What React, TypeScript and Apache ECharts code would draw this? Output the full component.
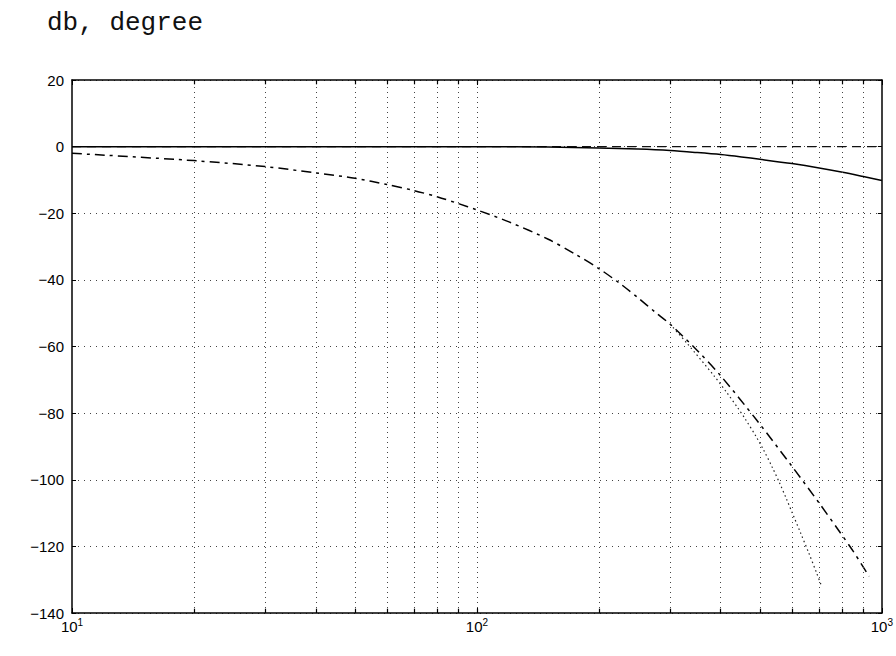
import React, { useEffect, useRef } from "react";
import * as echarts from "echarts";

const titleText = "db, degree";
const yTicks = [20, 0, -20, -40, -60, -80, -100, -120, -140];
const xDecades = [10, 100, 1000];
const gridFreqs = [20, 30, 40, 50, 60, 70, 80, 90, 100, 200, 300, 400, 500, 600, 700, 800, 900];

const magFreq = [10, 20, 50, 100, 150, 200, 250, 300, 350, 400, 450, 500, 600, 700, 800, 900, 1000];
const magDb = [0, 0, 0, 0, -0.15, -0.4, -0.75, -1.2, -1.8, -2.4, -3.1, -3.8, -5.1, -6.4, -7.7, -9.0, -10.2];

const phaseFreq = [10, 20, 30, 40, 50, 60, 70, 80, 90, 100, 120, 150, 175, 200, 225, 250, 275, 300, 350, 400, 490, 600, 700, 780, 850, 930];
const phaseDeg = [-2, -4.2, -6, -7.9, -9.5, -11.4, -13.2, -15.1, -17.1, -19, -22.6, -27.8, -32.3, -36.6, -41, -45.4, -49.6, -53.3, -61.2, -68.8, -82, -96, -107, -115, -121.5, -129];

const altFreq = [300, 330, 385, 415, 440, 460, 490, 510, 535, 560, 580, 630, 660, 690, 710];
const altDeg = [-53.3, -59, -68.8, -74, -78.3, -81.8, -87.2, -91, -96, -101.2, -105.5, -116, -122, -128, -132];

const zeroFreq = [10, 1000];
const zeroVal = [0, 0];

const pairs = (xs: number[], ys: number[]) => xs.map((x, i) => [x, ys[i]]);

export default function App() {
  const ref = useRef<HTMLDivElement>(null);
  useEffect(() => {
    if (!ref.current) return;
    const chart = echarts.init(ref.current, null, { renderer: "svg" });
    const yMin = yTicks[yTicks.length - 1];
    const yMax = yTicks[0];
    const tickMarks: any[] = [];
    gridFreqs.forEach((f) => {
      tickMarks.push([{ coord: [f, yMin] }, { coord: [f, yMin + 1.3] }]);
      tickMarks.push([{ coord: [f, yMax] }, { coord: [f, yMax - 1.3] }]);
    });
    const option: any = {
      animation: false,
      backgroundColor: "#ffffff",
      title: {
        text: titleText,
        left: 42,
        top: 5,
        textStyle: {
          fontFamily: "Liberation Mono",
          fontWeight: "normal",
          fontSize: 26,
          color: "#111",
        },
      },
      grid: { left: 72, right: 11, top: 80, bottom: 43 },
      xAxis: [
        {
          type: "log",
          logBase: 10,
          min: xDecades[0],
          max: xDecades[xDecades.length - 1],
          axisLine: { show: true, onZero: false, lineStyle: { color: "#000", width: 1.5 } },
          axisTick: { show: true, inside: true, length: 5, lineStyle: { color: "#000" } },
          splitLine: { show: false },
          axisLabel: {
            color: "#000",
            fontFamily: "Liberation Sans",
            fontSize: 15,
            margin: 4,
            formatter: (v: number) => `10{sup|${Math.round(Math.log10(v))}}`,
            rich: {
              sup: { fontSize: 10, verticalAlign: "top", padding: [0, 0, 8, 0], fontFamily: "Liberation Sans", color: "#000" },
            },
          },
        },
        {
          type: "log",
          logBase: 10,
          position: "top",
          min: xDecades[0],
          max: xDecades[xDecades.length - 1],
          axisLine: { show: true, onZero: false, lineStyle: { color: "#000", width: 1.5 } },
          axisTick: { show: true, inside: true, length: 5, lineStyle: { color: "#000" } },
          axisLabel: { show: false },
          splitLine: { show: false },
        },
      ],
      yAxis: [
        {
          type: "value",
          min: yMin,
          max: yMax,
          interval: 20,
          axisLine: { show: true, onZero: false, lineStyle: { color: "#000", width: 1.5 } },
          axisTick: { show: true, inside: true, length: 4, lineStyle: { color: "#000" } },
          splitLine: { show: true, lineStyle: { color: "#444", type: [1, 5], width: 1 } },
          axisLabel: {
            color: "#000",
            fontFamily: "Liberation Sans",
            fontSize: 15,
            margin: 8,
            formatter: (v: number) => String(v).replace("-", "\u2212"),
          },
        },
        {
          type: "value",
          position: "right",
          min: yMin,
          max: yMax,
          interval: 20,
          axisLine: { show: true, onZero: false, lineStyle: { color: "#000", width: 1.5 } },
          axisTick: { show: true, inside: true, length: 4, lineStyle: { color: "#000" } },
          splitLine: { show: false },
          axisLabel: { show: false },
        },
      ],
      series: [
        {
          name: "zero",
          type: "line",
          data: pairs(zeroFreq, zeroVal),
          showSymbol: false,
          lineStyle: { color: "#111", width: 1.3, type: [9, 6] },
          markLine: {
            silent: true,
            symbol: "none",
            label: { show: false },
            lineStyle: { color: "#444", type: [1, 4], width: 1 },
            data: gridFreqs.map((f) => ({ xAxis: f })),
          },
        },
        {
          name: "ticks",
          type: "line",
          data: [],
          markLine: {
            silent: true,
            symbol: "none",
            label: { show: false },
            lineStyle: { color: "#000", type: "solid", width: 1.2 },
            data: tickMarks,
          },
        },
        {
          name: "magnitude",
          type: "line",
          data: pairs(magFreq, magDb),
          showSymbol: false,
          smooth: 0.3,
          lineStyle: { color: "#000", width: 1.5, type: "solid" },
        },
        {
          name: "phase",
          type: "line",
          data: pairs(phaseFreq, phaseDeg),
          showSymbol: false,
          smooth: 0.3,
          lineStyle: { color: "#000", width: 1.5, type: [10, 5, 3, 5] },
        },
        {
          name: "phase2",
          type: "line",
          data: pairs(altFreq, altDeg),
          showSymbol: false,
          smooth: 0.3,
          lineStyle: { color: "#222", width: 1.2, type: [1.5, 3] },
        },
      ],
    };
    chart.setOption(option);
    return () => chart.dispose();
  }, []);
  return <div ref={ref} style={{ width: 896, height: 656, position: "fixed", left: 0, top: 0 }} />;
}
